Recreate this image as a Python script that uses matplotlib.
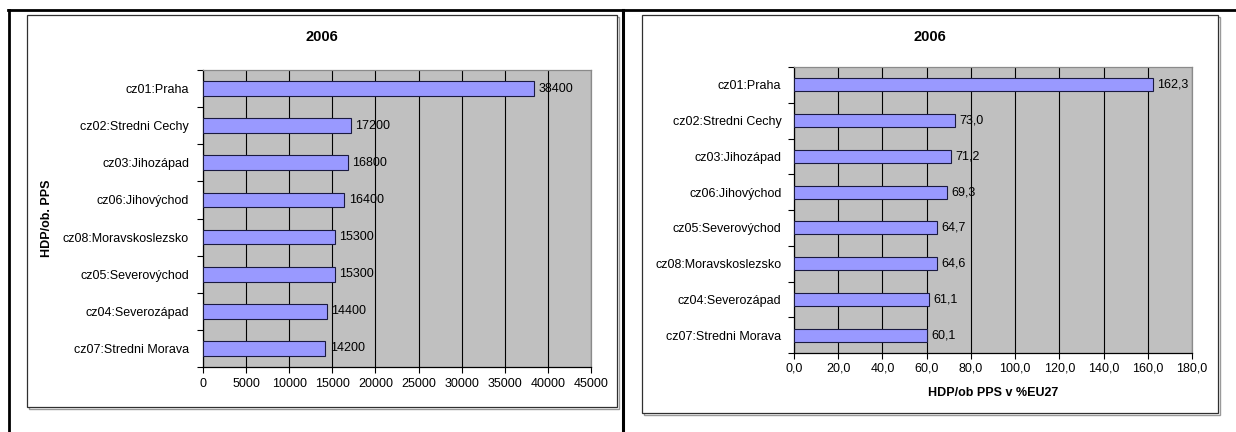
import matplotlib
matplotlib.use("Agg")
from matplotlib import pyplot as plt
from matplotlib.lines import Line2D
from matplotlib.patches import Rectangle
import numpy as np

plt.rcParams['font.family'] = ['Liberation Sans', 'DejaVu Sans']

# data
regions_abs = ["cz01:Praha", "cz02:Stredni Cechy", "cz03:Jihozápad", "cz06:Jihovýchod",
               "cz08:Moravskoslezsko", "cz05:Severovýchod", "cz04:Severozápad",
               "cz07:Stredni Morava"]
hdp_pps = [38400, 17200, 16800, 16400, 15300, 15300, 14400, 14200]

regions_pct = ["cz01:Praha", "cz02:Stredni Cechy", "cz03:Jihozápad", "cz06:Jihovýchod",
               "cz05:Severovýchod", "cz08:Moravskoslezsko", "cz04:Severozápad",
               "cz07:Stredni Morava"]
hdp_pct_eu27 = [162.3, 73.0, 71.2, 69.3, 64.7, 64.6, 61.1, 60.1]

year_title = "2006"

W, H = 1236, 432
fig = plt.figure(figsize=(W / 100, H / 100), dpi=100)
fig.patch.set_facecolor("white")


def fx(px):
    return px / W


def fy(py):
    return 1 - py / H


def add_axes_px(left, top, right, bottom):
    return fig.add_axes([fx(left), fy(bottom), (right - left) / W, (bottom - top) / H])


# outer table frame
for xs, ys, lw in [((8, W), (10, 10), 2.0), ((9, 9), (10, H), 2.0), ((623, 623), (10, H), 2.2)]:
    fig.add_artist(Line2D([fx(x) for x in xs], [fy(y) for y in ys],
                          transform=fig.transFigure, color="black", lw=lw, zorder=-1))

# chart boxes with a small shadow (drawn under the axes)
for left, top, right, bottom in [(27, 15, 617, 407), (642, 15, 1218, 413)]:
    fig.add_artist(Rectangle((fx(left + 1.5), fy(bottom + 1.5)), (right - left) / W,
                             (bottom - top) / H, transform=fig.transFigure,
                             facecolor="none", edgecolor="#9a9a9a", lw=1, zorder=-3))
    fig.add_artist(Rectangle((fx(left), fy(bottom)), (right - left) / W,
                             (bottom - top) / H, transform=fig.transFigure,
                             facecolor="white", edgecolor="#303030", lw=0.9, zorder=-2))


def bar_panel(ax, cats, vals, xmax, step, fmt, height):
    y = np.arange(len(cats))
    ax.set_facecolor("#C0C0C0")
    ax.barh(y, vals, height=height, color="#9999FF", edgecolor="#1a1a40", lw=0.8, zorder=3)
    ax.set_xlim(0, xmax)
    ax.set_ylim(len(cats) - 0.5, -0.5)
    ax.set_xticks(np.arange(0, xmax + step / 2, step))
    ax.set_xticklabels([fmt(v) for v in np.arange(0, xmax + step / 2, step)])
    ax.set_yticks(y)
    ax.set_yticklabels(cats)
    ax.set_yticks(np.arange(-0.5, len(cats)), minor=True)
    ax.tick_params(axis="y", which="major", length=0, pad=10, labelsize=9)
    ax.tick_params(axis="y", which="minor", length=4, width=0.8, direction="out")
    ax.tick_params(axis="x", length=4, width=0.8, direction="out", pad=4, labelsize=9)
    ax.grid(axis="x", color="black", lw=0.8, zorder=1)
    ax.set_axisbelow(True)
    for side in ["left", "bottom"]:
        ax.spines[side].set_color("black")
        ax.spines[side].set_linewidth(0.9)
    for side in ["top", "right"]:
        ax.spines[side].set_color("#8a8a8a")
        ax.spines[side].set_linewidth(0.9)
    for yi, v in zip(y, vals):
        ax.annotate(fmt(v), (v, yi), xytext=(3, 0), textcoords="offset points",
                    va="center", ha="left", fontsize=9, zorder=4)


def comma(v):
    return f"{v:.1f}".replace(".", ",")


ax1 = add_axes_px(203, 70, 591, 367)
bar_panel(ax1, regions_abs, hdp_pps, 45000, 5000, lambda v: f"{v:.0f}", 0.4)
fig.text(fx(322), fy(37), year_title, ha="center", va="center", fontsize=10.5, fontweight="bold")
fig.text(fx(47), fy(218), "HDP/ob. PPS", ha="center", va="center", rotation=90,
         fontsize=9, fontweight="bold")

ax2 = add_axes_px(794, 67, 1192, 353)
bar_panel(ax2, regions_pct, hdp_pct_eu27, 180, 20, comma, 0.37)
ax2.tick_params(axis="y", which="major", pad=9)
ax2.tick_params(axis="x", pad=3)
fig.text(fx(930), fy(37), year_title, ha="center", va="center", fontsize=10.5, fontweight="bold")
fig.text(fx(993), fy(393), "HDP/ob PPS v %EU27", ha="center", va="center",
         fontsize=9, fontweight="bold")

fig.savefig("out.png", dpi=100)
